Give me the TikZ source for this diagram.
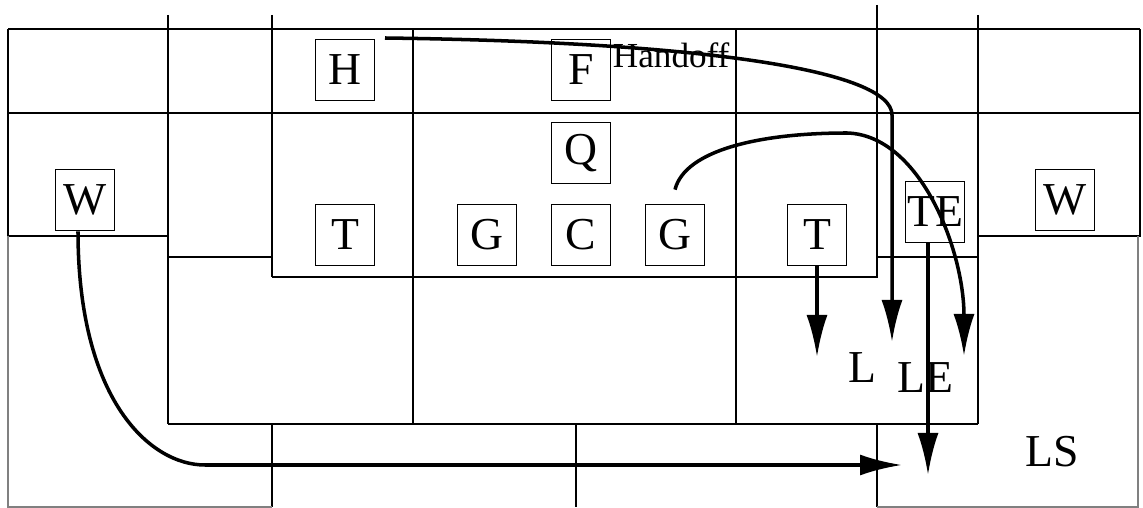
\documentclass[tikz,border=0pt]{standalone}
\usepackage{fontspec}
\setmainfont{Liberation Serif}
\usetikzlibrary{arrows.meta}

\begin{document}
\begin{tikzpicture}[
            player/.style={draw, line width=1pt, minimum width=1.18cm, minimum height=1.22cm, inner sep=0pt, font=\fontsize{26}{28}\selectfont},
            zone/.style={inner sep=0pt, font=\fontsize{26}{28}\selectfont},
            route/.style={line width=2pt, -{Latex[length=0.84cm, width=0.42cm]}},
            line width=1.1pt]
            \useasboundingbox (0, 0) rectangle (22.86, 10.16);

            % field grid
            \draw (0.16, 9.58) -- (22.8, 9.58);
            \draw (0.16, 7.9) -- (22.8, 7.9);
            \draw (0.16, 9.58) -- (0.16, 5.44) -- (3.36, 5.44);
            \draw (3.36, 5.02) -- (5.44, 5.02);
            \draw (5.44, 4.62) -- (17.54, 4.62) -- (17.54, 5.02) -- (19.56, 5.02);
            \draw (19.56, 5.44) -- (22.8, 5.44) -- (22.8, 9.58);
            \draw (3.36, 1.68) -- (19.56, 1.68);
            \draw (3.36, 9.86) -- (3.36, 1.68);
            \draw (5.44, 9.86) -- (5.44, 4.62);
            \draw (5.44, 1.68) -- (5.44, 0.02);
            \draw (8.26, 9.58) -- (8.26, 1.68);
            \draw (11.52, 1.68) -- (11.52, 0.02);
            \draw (14.72, 9.58) -- (14.72, 1.68);
            \draw (17.54, 10.06) -- (17.54, 5.02);
            \draw (17.54, 1.68) -- (17.54, 0.02);
            \draw (19.56, 9.86) -- (19.56, 1.68);
            \draw[gray] (0.16, 5.44) -- (0.16, 0.02) -- (5.44, 0.02);
            \draw[gray] (17.54, 0.02) -- (22.76, 0.02) -- (22.76, 5.44);

            % players
            \node[player] (h) at (6.9, 8.76) {H};
            \node[player] (f) at (11.62, 8.76) {F};
            \node[player] (q) at (11.62, 7.1) {Q};
            \node[player] (lt) at (6.9, 5.46) {T};
            \node[player] (lg) at (9.74, 5.46) {G};
            \node[player] (c) at (11.62, 5.46) {C};
            \node[player] (rg) at (13.5, 5.46) {G};
            \node[player] (rt) at (16.34, 5.46) {T};
            \node[player] (te) at (18.7, 5.92) {TE};
            \node[player] (lw) at (1.7, 6.16) {W};
            \node[player] (rw) at (21.3, 6.16) {W};

            \node[anchor=base west, inner sep=0pt, font=\fontsize{20}{22}\selectfont] (handoff) at (12.24, 8.8) {Handoff};
            \node[zone, anchor=base] (l) at (17.24, 2.5) {L};
            \node[zone, anchor=base] (le) at (18.5, 2.3) {LE};
            \node[zone, anchor=base] (ls) at (21.04, 0.82) {LS};

            % runs
            \coordinate (handoff-start) at (7.7, 9.4);
            \coordinate (l-run) at (16.4, 3.02);
            \coordinate (le-run) at (17.84, 3.32);
            \coordinate (pull-end) at (19.28, 3.04);
            \coordinate (ls-deep) at (18.56, 0.66);
            \coordinate (ls-cross) at (18.04, 0.86);

            \draw[route] (rt.south) -- (rt.south |- l-run);
            \draw[route] (handoff-start) .. controls (14, 9.32) and (17.84, 8.76) .. (17.84, 7.86) -- (le-run);
            \draw[route] ([yshift=0.28cm]rg.north) .. controls (13.7, 7.16) and (15.2, 7.5) .. (16.94, 7.5)
                .. controls (18.4, 7.46) and (19.28, 5.16) .. (pull-end);
            \draw[route] ([xshift=-0.14cm]te.south) -- (ls-deep);
            \draw[route] ([xshift=-0.14cm]lw.south) .. controls (1.56, 2.16) and (3.0, 0.86) .. (4.1, 0.86) -- (ls-cross);
\end{tikzpicture}
\end{document}
